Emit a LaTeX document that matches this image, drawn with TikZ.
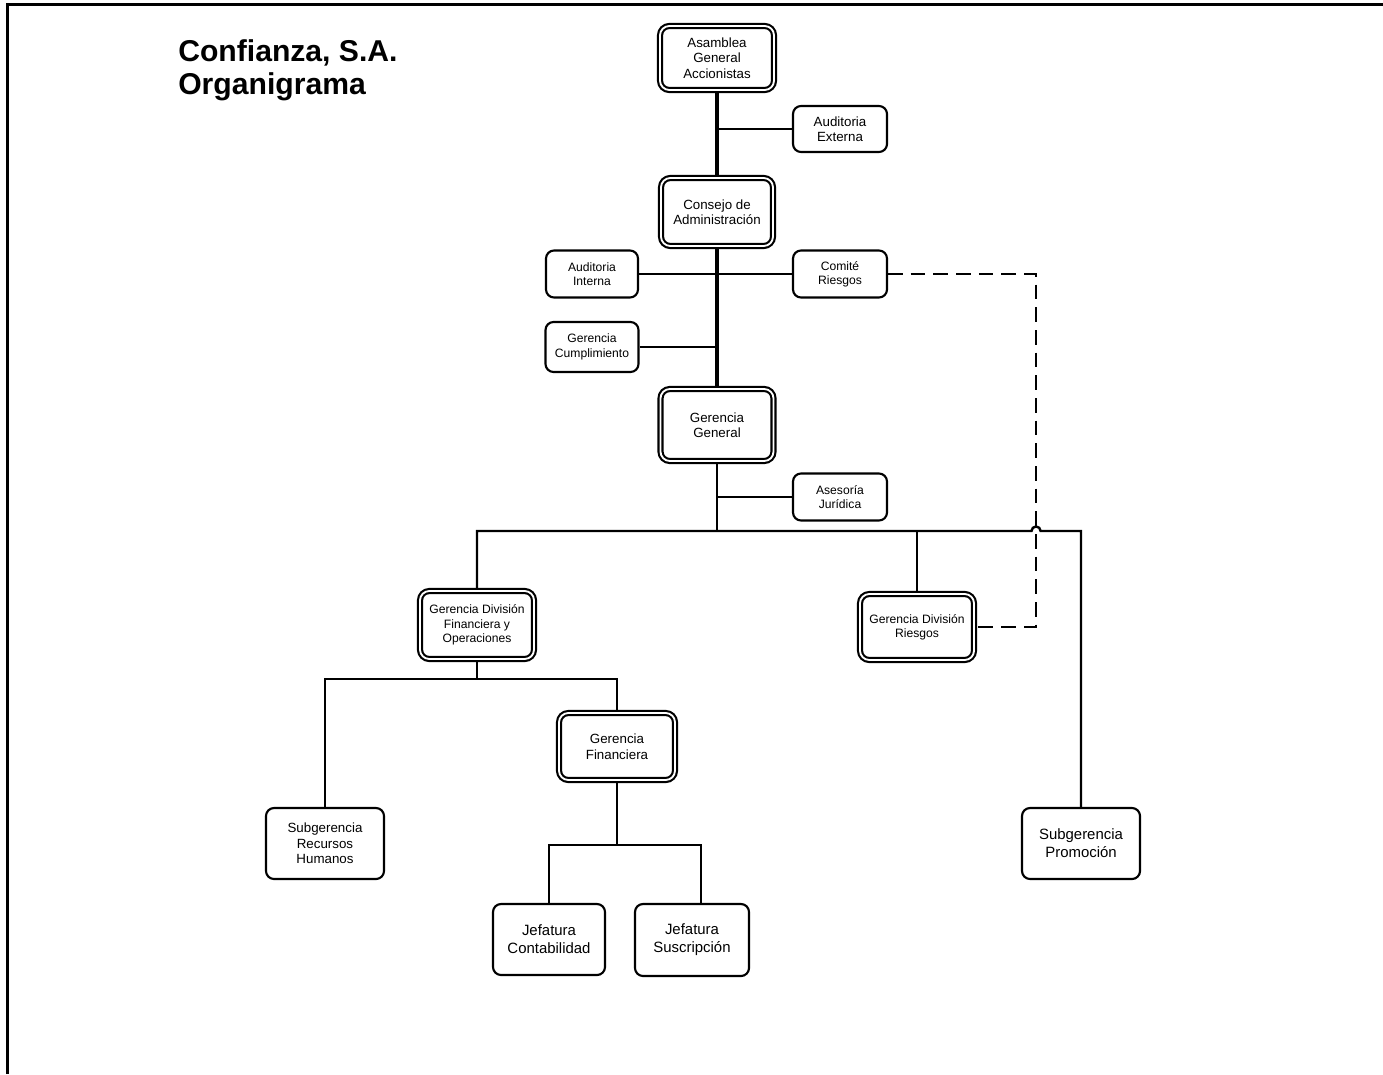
\documentclass[tikz,border=0pt]{standalone}
\usepackage{fontspec}
\setmainfont{Liberation Sans}

\begin{document}
\begin{tikzpicture}[x=0.75pt, y=-0.75pt]
  \tikzstyle{box} = [rectangle, draw, line width=1.6pt, rounded corners=6pt, align=center, inner sep=1pt];
  \tikzstyle{dbox} = [rectangle, draw, line width=1.6pt, double, double distance=1.4pt, rounded corners=7pt, align=center, inner sep=1pt];
  \tikzstyle{smalltext} = [font=\fontsize{9.1}{10.8}\selectfont];
  \tikzstyle{midtext} = [font=\fontsize{10}{11.6}\selectfont];
  \tikzstyle{bigtext} = [font=\fontsize{11.2}{13.6}\selectfont];
  \tikzstyle{link} = [line width=1.8pt];
  \tikzstyle{trunk} = [line width=3pt];
  \tikzstyle{dashlink} = [line width=1.8pt, dash pattern=on 11pt off 6pt];

  \useasboundingbox (0,0) rectangle (1383,1074);
  \draw[line width=2.25pt] (7.5,1074) -- (7.5,4.5) -- (1383,4.5);

  \node[anchor=base west, inner sep=0, font=\fontsize{22.6}{26}\selectfont\bfseries] (title1) at (178,61) {Confianza, S.A.};
  \node[anchor=base west, inner sep=0, font=\fontsize{22.6}{26}\selectfont\bfseries] (title2) at (178,94) {Organigrama};

  \node[dbox, midtext, minimum width=85.5pt, minimum height=48pt] (asamblea) at (717,58) {Asamblea\\General\\Accionistas};
  \node[box, midtext, minimum width=70.5pt, minimum height=34.5pt] (audext) at (840,129) {Auditoria\\Externa};
  \node[dbox, midtext, minimum width=84pt, minimum height=51pt] (consejo) at (717,212) {Consejo de\\Administración};
  \node[box, smalltext, minimum width=69pt, minimum height=35.25pt] (audint) at (592,274) {Auditoria\\Interna};
  \node[box, smalltext, minimum width=70.5pt, minimum height=35.25pt] (comite) at (840,274) {Comité\\Riesgos};
  \node[box, smalltext, minimum width=69.75pt, minimum height=37.5pt] (gercump) at (592,347) {Gerencia\\Cumplimiento};
  \node[dbox, midtext, minimum width=84.75pt, minimum height=54pt] (gergen) at (717,425) {Gerencia\\General};
  \node[box, smalltext, minimum width=70.5pt, minimum height=35.25pt] (asesoria) at (840,497) {Asesoría\\Jurídica};

  \node[dbox, smalltext, minimum width=85.5pt, minimum height=51pt] (gdfo) at (477,625) {Gerencia División\\Financiera y\\Operaciones};
  \node[dbox, smalltext, minimum width=85.5pt, minimum height=49.5pt] (gdr) at (917,627) {Gerencia División\\Riesgos};
  \node[dbox, midtext, minimum width=87pt, minimum height=50.25pt] (gerfin) at (617,746.5) {Gerencia\\Financiera};
  \node[box, midtext, minimum width=88.5pt, minimum height=53.25pt] (subrh) at (325,843.5) {Subgerencia\\Recursos\\Humanos};
  \node[box, bigtext, minimum width=84pt, minimum height=53.25pt] (jefcont) at (549,939.5) {Jefatura\\Contabilidad};
  \node[box, bigtext, minimum width=85.5pt, minimum height=54pt] (jefsus) at (692,940) {Jefatura\\Suscripción};
  \node[box, bigtext, minimum width=88.5pt, minimum height=53.25pt] (subprom) at (1081,843.5) {Subgerencia\\Promoción};

  \coordinate (bus) at (717,531);
  \coordinate (dashturn) at (1036,400);
  \coordinate (gdfobus) at (477,679);
  \coordinate (gfbus) at (617,845);
  \coordinate (jsdrop) at (701,845);

  \draw[trunk] (asamblea) -- (consejo);
  \draw[trunk] (consejo) -- (gergen);
  \draw[link] (audext.west) -- (audext.west -| asamblea.south);
  \draw[link] (audint) -- (comite);
  \draw[link] (gercump.east) -- (gercump.east -| consejo.south);
  \draw[link] (asesoria.west) -- (asesoria.west -| gergen.south);
  \draw[link] (gergen.south) -- (bus);

  \draw[dashlink] (comite.east) -| (dashturn) |- (gdr.east);

  \draw[link] (gdfo.north) |- (bus) -- (1031.5,531) arc[start angle=180, end angle=0, radius=3.4pt] -| (subprom.north);
  \draw[link] (gdr.north) -- (gdr.north |- bus);

  \draw[link] (gdfo.south) -- (gdfobus);
  \draw[link] (subrh.north) |- (gdfobus) -| (gerfin.north);
  \draw[link] (gerfin.south) -- (gfbus);
  \draw[link] (jefcont.north) |- (gfbus) -- (jsdrop) -- (jsdrop |- jefsus.north);

\end{tikzpicture}
\end{document}
